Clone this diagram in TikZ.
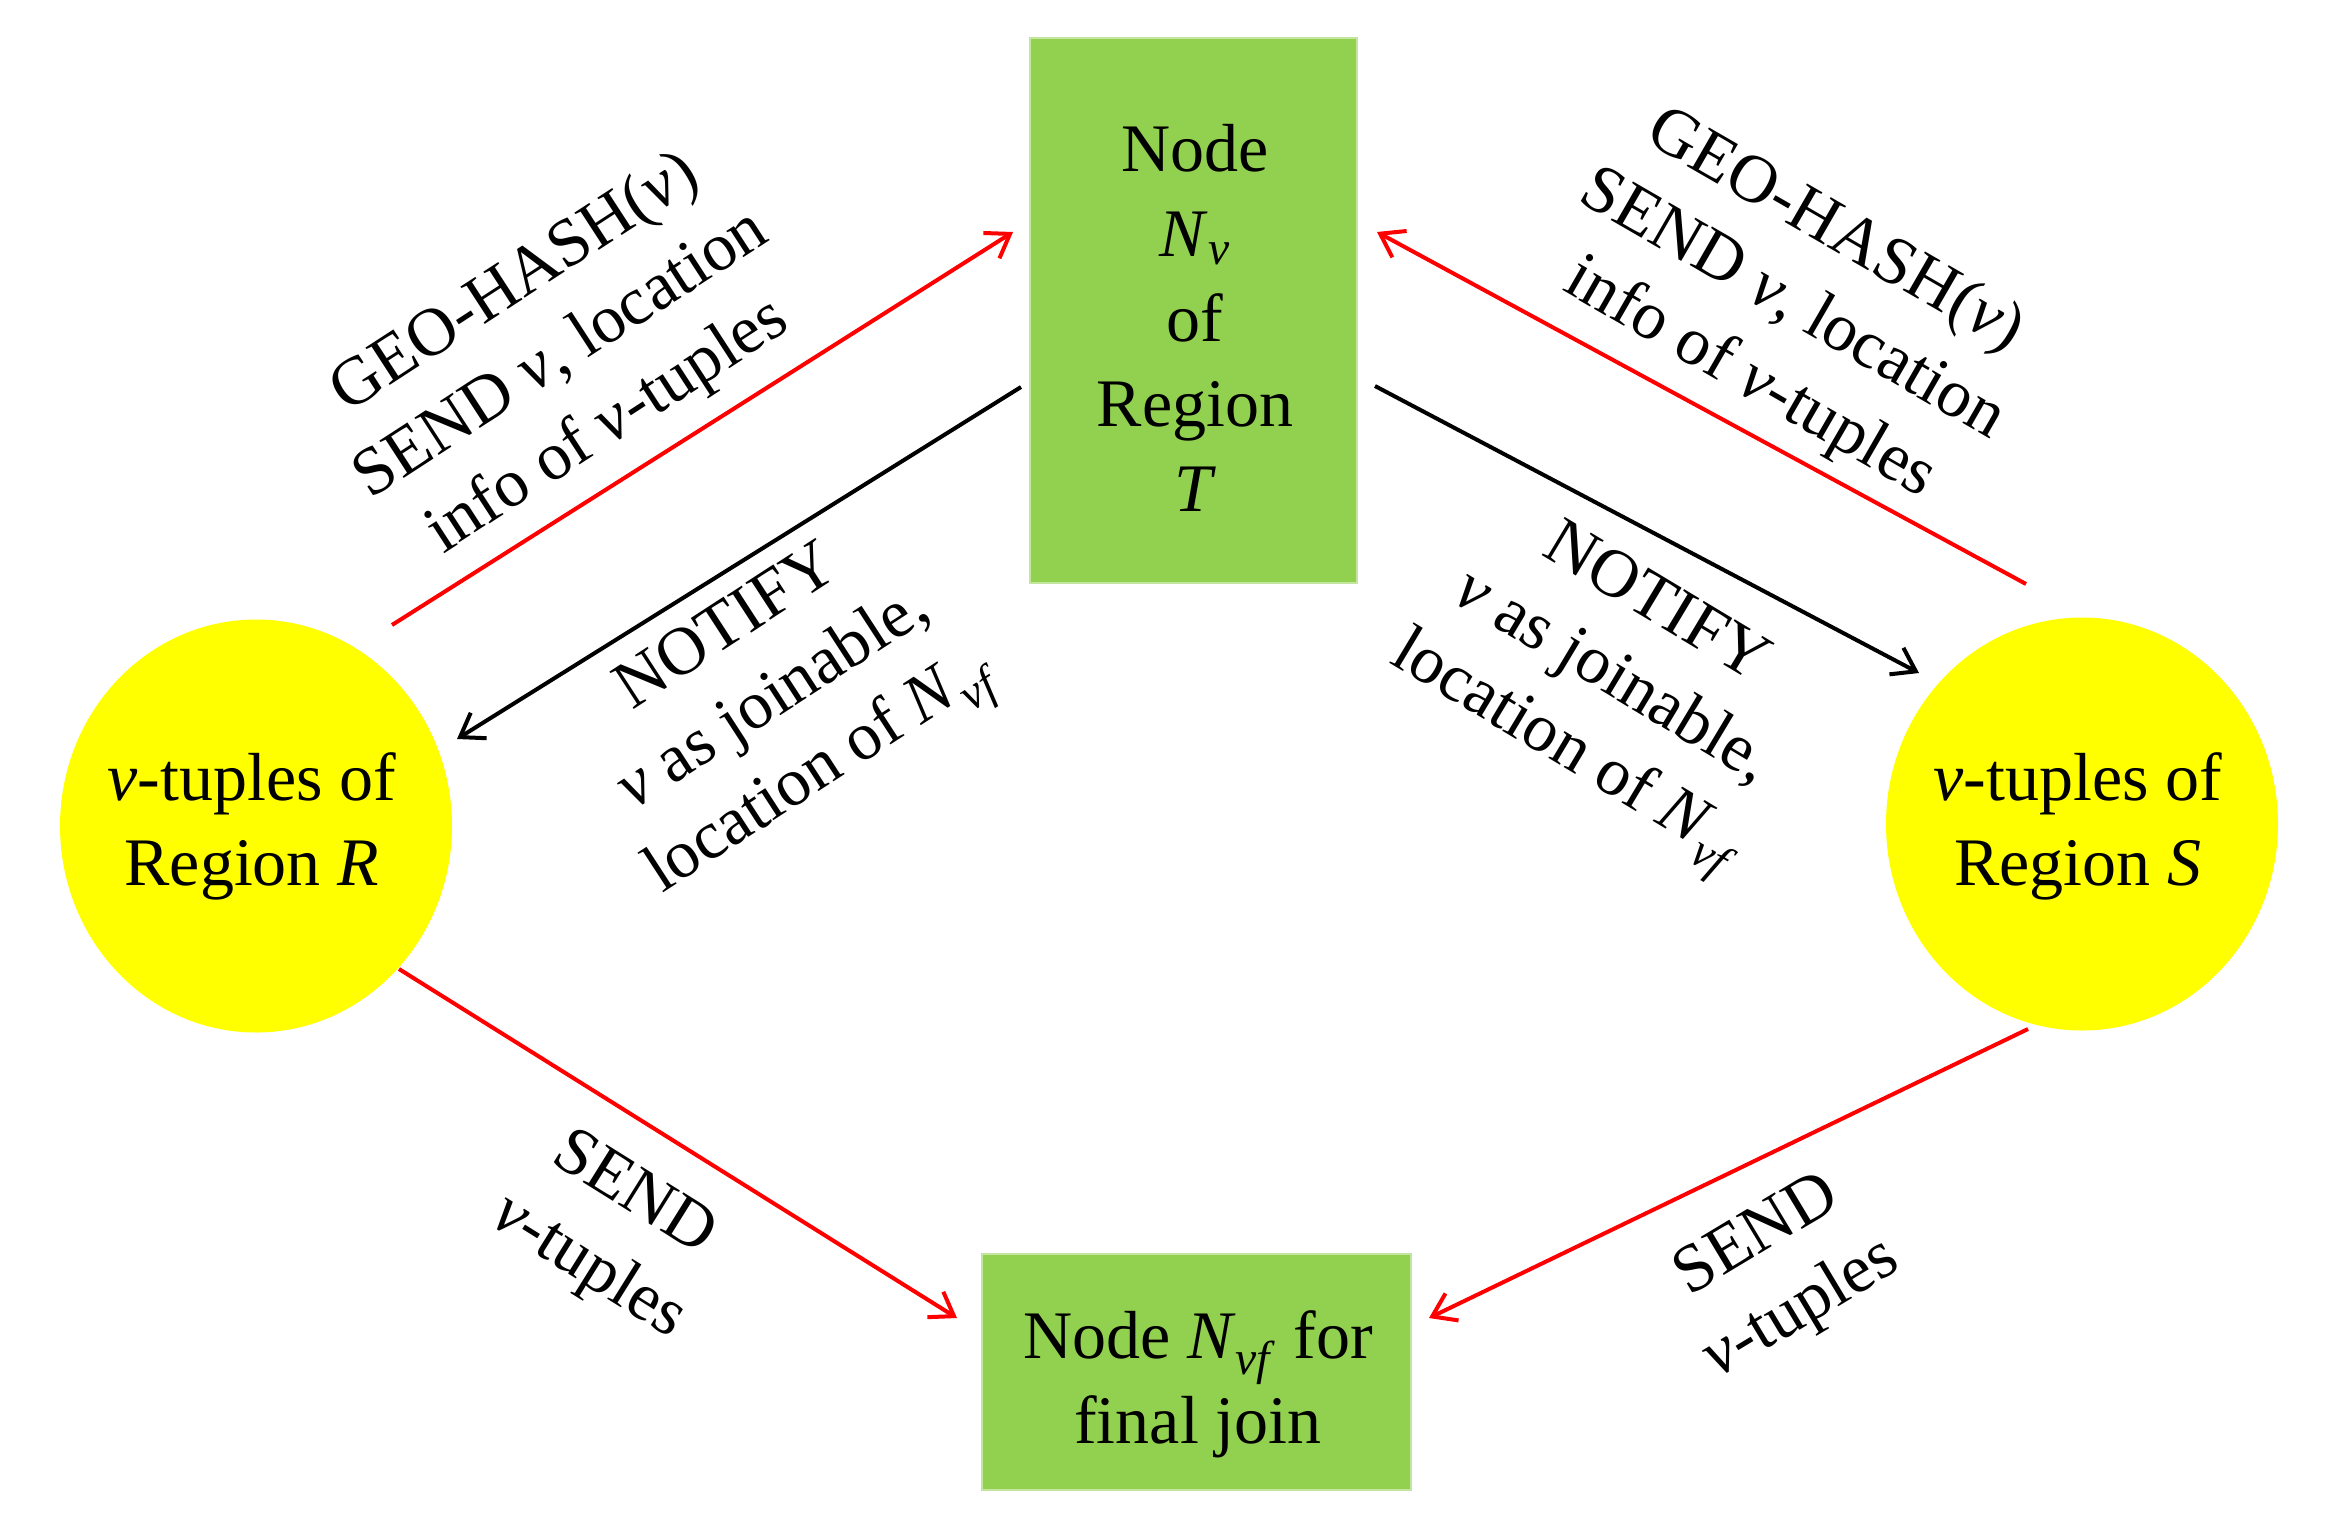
\documentclass[tikz,border=0pt]{standalone}
\usepackage{fontspec}
\setmainfont{Liberation Serif}
\usetikzlibrary{arrows.meta,shapes.geometric}
\definecolor{boxgreen}{HTML}{92D050}
\definecolor{circyellow}{HTML}{FFFF00}
\definecolor{arrred}{HTML}{FF0000}
\begin{document}
\begin{tikzpicture}[x=0.5pt,y=-0.5pt,
  every node/.style={font=\fontsize{34}{42.5}\selectfont},
  greenbox/.style={rectangle, fill=boxgreen, draw=boxgreen!55, line width=1pt, inner sep=0pt},
  regioncirc/.style={ellipse, fill=circyellow, inner sep=0pt, minimum width=196pt, minimum height=206.5pt},
  redarr/.style={draw=arrred, line width=2pt, -{Straight Barb[length=11pt,width=15pt]}},
  blackarr/.style={draw=black, line width=2pt, -{Straight Barb[length=11pt,width=15pt]}},
  lbl/.style={align=center, inner sep=0pt}
]
\useasboundingbox (0,0) rectangle (2333,1531);

\node[greenbox, minimum width=163.5pt, minimum height=272.5pt] (T) at (1193.5,310) {};
\node[lbl] (Tt) at (1195,318)
  {Node\\\textit{N}\textsubscript{\textit{v}}\\of\\Region\\\textit{T}};
\node[greenbox, minimum width=214.5pt, minimum height=118pt] (F) at (1196.5,1372) {};
\node[lbl] (Ft) at (1198,1384)
  {Node \textit{N}\textsubscript{\textit{vf}} for\\final join};
\node[regioncirc] (R) at (256,826) {};
\node[lbl] (Rt) at (252,826) {\textit{v}-tuples of\\Region \textit{R}};
\node[regioncirc] (S) at (2082,824) {};
\node[lbl] (St) at (2078,826) {\textit{v}-tuples of\\Region \textit{S}};

\coordinate (a1s) at (392,625);  \coordinate (a1e) at (1013,232);
\coordinate (a2s) at (1021,387); \coordinate (a2e) at (457,739);
\coordinate (a3s) at (2026,584); \coordinate (a3e) at (1377,232);
\coordinate (a4s) at (1375,386); \coordinate (a4e) at (1919,673);
\coordinate (a5s) at (399,969);  \coordinate (a5e) at (957,1318);
\coordinate (a6s) at (2028,1029); \coordinate (a6e) at (1429,1318);

\draw[redarr] (a1s) -- (a1e);
\draw[blackarr] (a2s) -- (a2e);
\draw[redarr] (a3s) -- (a3e);
\draw[blackarr] (a4s) -- (a4e);
\draw[redarr] (a5s) -- (a5e);
\draw[redarr] (a6s) -- (a6e);

\node[lbl, rotate=33] (L1) at (562,356)
  {GEO-HASH(\textit{v})\\SEND \textit{v}, location\\info of \textit{v}-tuples};
\node[lbl, rotate=33] (L2) at (778,706)
  {NOTIFY\\\textit{v} as joinable,\\location of \textit{N}\textsubscript{\textit{vf}}};
\node[lbl, rotate=-30] (L3) at (1792,306)
  {GEO-HASH(\textit{v})\\SEND \textit{v}, location\\info of \textit{v}-tuples};
\node[lbl, rotate=-31] (L4) at (1608,684)
  {NOTIFY\\\textit{v} as joinable,\\location of \textit{N}\textsubscript{\textit{vf}}};
\node[lbl, rotate=-32] (L5) at (610,1232) {SEND\\\textit{v}-tuples};
\node[lbl, rotate=31] (L6) at (1780,1274) {SEND\\\textit{v}-tuples};
\end{tikzpicture}
\end{document}
